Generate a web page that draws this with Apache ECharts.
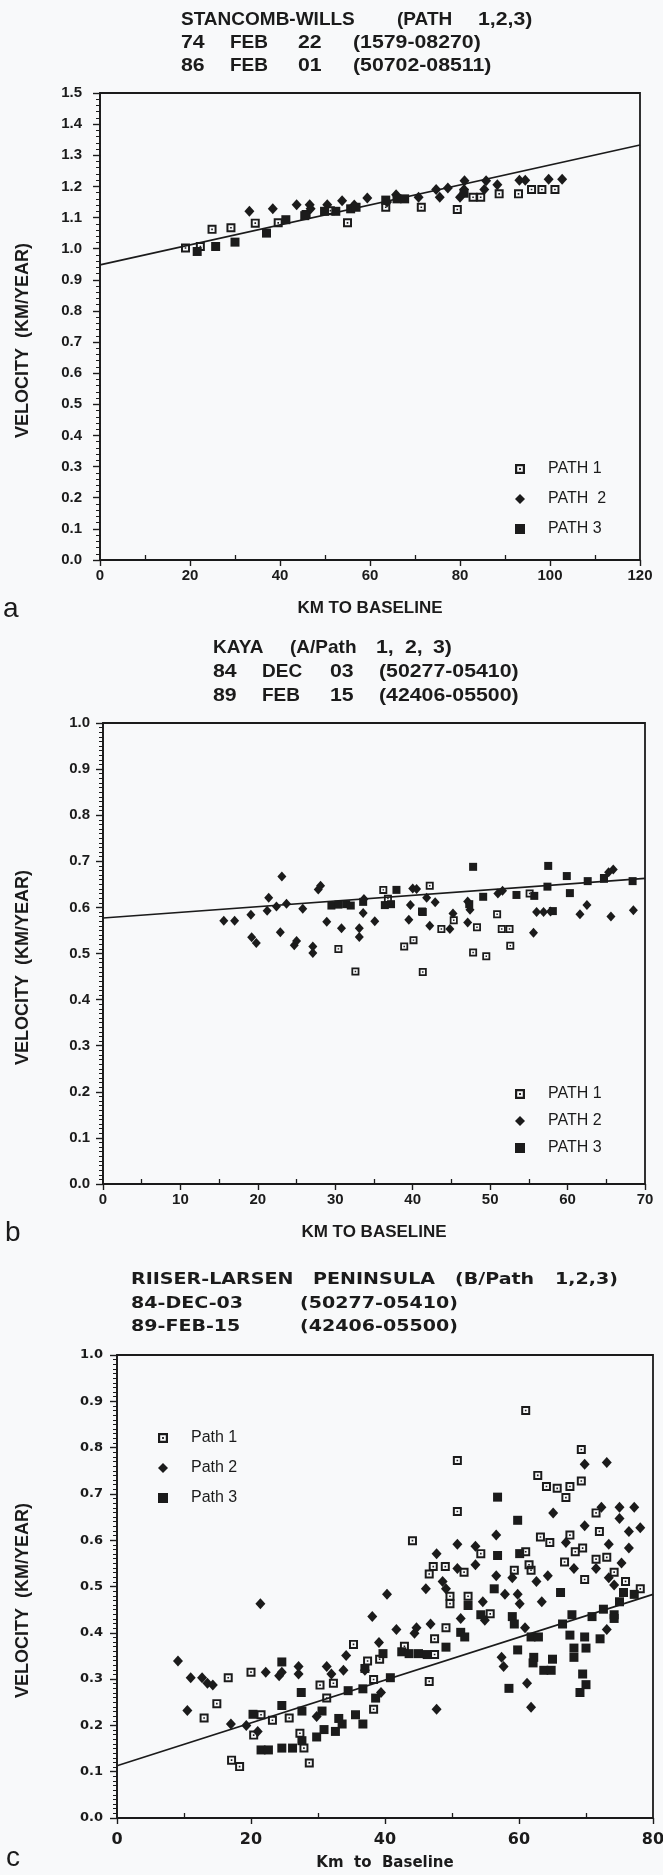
<!DOCTYPE html>
<html><head><meta charset="utf-8">
<script src="https://cdn.jsdelivr.net/npm/echarts@6/dist/echarts.min.js"></script>
<style>html,body{margin:0;padding:0;background:#f8f9fa}#c{width:663px;height:1875px}</style>
</head><body><div id="c"></div>
<script>
// ---------- DATA ----------
// Panel a: STANCOMB-WILLS  [km to baseline, velocity km/yr]
const aPath1 = [[19.0,1.002],[22.3,1.007],[24.9,1.062],[29.1,1.067],[34.5,1.082],[39.6,1.083],[45.8,1.11],[51.2,1.122],[55.0,1.083],[63.5,1.133],[71.4,1.133],[79.4,1.126],[82.9,1.165],[84.6,1.165],[88.7,1.176],[93.0,1.176],[95.9,1.19],[98.2,1.19],[101.1,1.19]];
const aPath2 = [[33.2,1.120],[38.4,1.128],[43.7,1.141],[46.6,1.141],[46.8,1.128],[50.5,1.141],[53.8,1.154],[56.5,1.14],[59.4,1.163],[63.8,1.15],[65.8,1.173],[70.8,1.165],[74.7,1.19],[75.5,1.165],[77.3,1.195],[80.0,1.165],[81.0,1.218],[80.9,1.19],[85.8,1.218],[85.4,1.19],[88.3,1.205],[93.2,1.22],[94.5,1.22],[99.7,1.223],[102.7,1.223]];
const aPath3 = [[21.6,0.991],[25.7,1.007],[30.0,1.021],[37.0,1.05],[41.3,1.093],[45.5,1.106],[49.9,1.12],[52.4,1.12],[55.7,1.128],[56.9,1.133],[63.5,1.156],[66.0,1.16],[67.7,1.16],[80.9,1.178]];
const aFit = [[0,0.948],[120,1.333]];

// Panel b: KAYA
const bPath1 = [[30.4,0.51],[32.6,0.461],[36.2,0.638],[36.8,0.619],[38.9,0.515],[40.1,0.529],[41.2,0.591],[41.3,0.46],[42.2,0.647],[43.7,0.553],[45.3,0.572],[47.8,0.502],[48.3,0.557],[49.5,0.494],[50.9,0.585],[51.5,0.553],[52.5,0.553],[52.6,0.517],[55.1,0.63],[64.7,0.664]];
const bPath2 = [[15.6,0.571],[17.0,0.571],[19.1,0.584],[19.2,0.535],[19.8,0.523],[21.2,0.593],[21.4,0.621],[22.4,0.602],[22.9,0.546],[23.1,0.667],[23.7,0.608],[24.7,0.518],[25.0,0.527],[25.8,0.597],[27.1,0.515],[27.1,0.501],[27.8,0.639],[28.1,0.647],[28.9,0.569],[30.8,0.555],[33.1,0.555],[33.1,0.536],[33.6,0.588],[33.7,0.618],[35.1,0.570],[39.5,0.573],[39.7,0.605],[40.0,0.641],[40.5,0.64],[41.8,0.621],[42.2,0.56],[42.9,0.611],[44.8,0.553],[45.2,0.587],[47.1,0.613],[47.4,0.595],[47.1,0.567],[51.0,0.630],[51.6,0.636],[55.6,0.545],[56.0,0.59],[56.9,0.59],[57.8,0.591],[61.6,0.585],[62.5,0.605],[65.6,0.58],[65.3,0.676],[65.9,0.682],[68.5,0.594]];
const bPath3 = [[29.5,0.604],[30.4,0.606],[31.4,0.607],[32.0,0.604],[33.6,0.612],[36.4,0.605],[37.2,0.607],[37.9,0.638],[41.3,0.59],[47.3,0.607],[47.8,0.688],[49.1,0.623],[53.4,0.627],[55.7,0.625],[57.4,0.645],[57.5,0.69],[58.1,0.592],[59.9,0.668],[60.3,0.631],[62.6,0.657],[64.7,0.662],[68.4,0.657]];
const bFit = [[0,0.577],[70,0.663]];

// Panel c: RIISER-LARSEN PENINSULA
const cPath1 = [[13.0,0.216],[14.9,0.247],[16.6,0.303],[17.1,0.125],[18.3,0.111],[20.0,0.315],[20.4,0.179],[21.5,0.223],[23.2,0.211],[25.7,0.216],[27.3,0.183],[27.9,0.151],[28.7,0.119],[30.3,0.287],[31.3,0.259],[32.3,0.291],[35.3,0.375],[37.4,0.339],[38.3,0.299],[38.3,0.235],[39.2,0.343],[42.9,0.371],[44.1,0.599],[46.6,0.527],[46.6,0.295],[47.2,0.543],[47.4,0.387],[47.4,0.353],[49.0,0.543],[49.1,0.411],[49.7,0.479],[49.7,0.463],[50.8,0.772],[50.8,0.662],[51.8,0.531],[52.4,0.479],[54.3,0.571],[55.7,0.441],[59.3,0.535],[61.0,0.88],[61.0,0.575],[61.5,0.547],[61.8,0.535],[62.8,0.74],[63.2,0.607],[64.6,0.595],[64.1,0.716],[65.7,0.712],[67.0,0.692],[67.6,0.716],[66.8,0.553],[67.6,0.611],[69.3,0.796],[69.3,0.728],[68.4,0.575],[69.5,0.583],[69.8,0.515],[71.5,0.659],[72.0,0.619],[71.5,0.559],[73.1,0.563],[74.2,0.531],[75.9,0.511],[78.1,0.495]];
const cPath2 = [[9.1,0.339],[10.5,0.232],[11.0,0.303],[12.7,0.303],[13.5,0.291],[14.3,0.287],[17.0,0.203],[19.3,0.2],[21.0,0.187],[21.4,0.463],[22.2,0.315],[24.2,0.307],[24.6,0.315],[27.1,0.327],[27.1,0.311],[29.8,0.219],[31.3,0.327],[32.0,0.311],[33.8,0.319],[34.2,0.351],[37.0,0.319],[38.1,0.435],[39.1,0.379],[39.4,0.271],[40.3,0.483],[41.7,0.407],[44.4,0.399],[44.7,0.411],[46.1,0.495],[46.8,0.419],[47.7,0.235],[47.7,0.571],[48.6,0.511],[49.1,0.495],[50.8,0.591],[50.8,0.539],[51.3,0.431],[53.5,0.587],[53.5,0.547],[54.6,0.467],[54.9,0.427],[56.6,0.611],[56.6,0.523],[57.9,0.483],[57.4,0.347],[57.7,0.327],[59.0,0.519],[59.8,0.483],[60.1,0.463],[60.9,0.411],[61.2,0.291],[61.8,0.239],[62.6,0.511],[63.4,0.467],[64.3,0.523],[65.1,0.659],[67.0,0.595],[68.2,0.539],[69.8,0.764],[69.8,0.631],[71.5,0.539],[72.3,0.671],[73.1,0.768],[73.1,0.407],[73.4,0.591],[73.4,0.519],[74.2,0.503],[75.0,0.671],[75.0,0.647],[75.3,0.551],[76.4,0.619],[76.4,0.583],[77.2,0.671],[78.1,0.627]];
const cPath3 = [[20.3,0.224],[21.5,0.147],[22.6,0.147],[24.6,0.151],[24.6,0.337],[24.6,0.243],[26.2,0.151],[27.5,0.271],[27.6,0.231],[27.6,0.167],[29.8,0.175],[30.6,0.231],[30.9,0.191],[32.6,0.187],[33.1,0.215],[33.6,0.203],[34.5,0.275],[35.6,0.223],[36.7,0.203],[36.7,0.279],[37.0,0.323],[38.6,0.259],[39.7,0.355],[40.8,0.303],[42.5,0.359],[43.6,0.355],[45.0,0.355],[46.3,0.353],[49.1,0.369],[51.3,0.401],[51.9,0.391],[52.4,0.459],[54.3,0.439],[56.3,0.495],[56.8,0.693],[56.8,0.567],[58.5,0.28],[59.0,0.435],[59.3,0.419],[59.8,0.643],[59.8,0.363],[60.1,0.571],[61.8,0.391],[62.1,0.335],[62.2,0.347],[62.9,0.391],[63.7,0.319],[64.8,0.319],[65.0,0.343],[66.2,0.487],[66.5,0.419],[67.9,0.439],[67.6,0.395],[68.2,0.367],[68.2,0.347],[69.1,0.271],[69.5,0.311],[70.0,0.288],[69.8,0.391],[70.0,0.367],[70.9,0.435],[72.1,0.387],[72.6,0.451],[74.2,0.439],[74.2,0.431],[75.0,0.467],[75.6,0.487],[77.2,0.483]];
const cFit = [[0,0.113],[80,0.483]];

// axis ranges [min, max, interval]
const aXRange = [0, 120, 20], aYRange = [0, 1.5, 0.1];
const bXRange = [0, 70, 10],  bYRange = [0, 1.0, 0.1];
const cXRange = [0, 80, 20],  cYRange = [0, 1.0, 0.1];

// texts
const aTitle = [['STANCOMB-WILLS','(PATH','1,2,3)'],['74','FEB','22','(1579-08270)'],['86','FEB','01','(50702-08511)']];
const bTitle = [['KAYA','(A/Path','1,','2,','3)'],['84','DEC','03','(50277-05410)'],['89','FEB','15','(42406-05500)']];
const cTitle = [['RIISER-LARSEN','PENINSULA','(B/Path','1,2,3)'],['84-DEC-03','(50277-05410)'],['89-FEB-15','(42406-05500)']];
const legendText = {A1:'PATH 1',A2:'PATH  2',A3:'PATH 3',B1:'PATH 1',B2:'PATH 2',B3:'PATH 3',C1:'Path 1',C2:'Path 2',C3:'Path 3'};

// ---------- STYLE / LAYOUT ----------
const INK = '#1b1b1b';
const FAB = '"Liberation Sans", Arial, sans-serif';
const FC = '"DejaVu Sans", sans-serif';
const OPEN_SQ = 'path://M0,0H10V10H0ZM2.2,2.2V7.8H7.8V2.2ZM4.1,4.1H5.9V5.9H4.1Z';

function words(rows, xs, ys, size, family, sx, digitSx) {
  const out = [];
  rows.forEach((r, i) => r.forEach((w, j) => out.push({
    type: 'text', x: xs[i][j], y: ys[i], silent: true,
    scaleX: (digitSx && /\d/.test(w)) ? digitSx : (sx || 1),
    style: { text: w, fill: INK, font: `bold ${size}px ${family}`, verticalAlign: 'middle', align: 'left' }
  })));
  return out;
}
function letter(x, y, s) {
  return { type: 'text', x, y, silent: true,
    style: { text: s, fill: INK, font: `28px ${FAB}`, verticalAlign: 'middle', align: 'left' } };
}
function xAx(g, r, name, o) {
  return {
    type: 'value', gridIndex: g, min: r[0], max: r[1], interval: r[2],
    axisLine: { show: true, onZero: false, lineStyle: { color: INK, width: 1.6 } },
    axisTick: { show: true, length: 6, lineStyle: { color: INK, width: 1.4 } },
    minorTick: { show: true, splitNumber: 2, length: -5, lineStyle: { color: INK, width: 1.3 } },
    splitLine: { show: false }, minorSplitLine: { show: false },
    axisLabel: { color: INK, fontSize: o.ls, fontWeight: 'bold', fontFamily: o.f, margin: o.lm },
    name, nameLocation: 'middle', nameGap: o.ng, nameMoveOverlap: false,
    nameTextStyle: { color: INK, fontSize: o.ns, fontWeight: 'bold', fontFamily: o.f }
  };
}
function yAx(g, r, o) {
  return {
    type: 'value', gridIndex: g, min: r[0], max: r[1], interval: r[2],
    axisLine: { show: true, onZero: false, lineStyle: { color: INK, width: 1.6 } },
    axisTick: { show: true, length: 7, lineStyle: { color: INK, width: 1.4 } },
    minorTick: { show: true, splitNumber: o.ms, length: 4, lineStyle: { color: INK, width: 1 } },
    splitLine: { show: false }, minorSplitLine: { show: false },
    axisLabel: { color: INK, fontSize: o.ls, fontWeight: 'bold', fontFamily: o.f, margin: o.lm,
      formatter: v => v.toFixed(1) },
    name: 'VELOCITY  (KM/YEAR)', nameLocation: 'middle', nameGap: o.ng, nameRotate: 90, nameMoveOverlap: false,
    nameTextStyle: { color: INK, fontSize: 18, fontWeight: 'bold', fontFamily: FAB, padding: [0, 28, 0, 0] }
  };
}
function scat(name, g, data, sym, size) {
  return { type: 'scatter', name, xAxisIndex: g, yAxisIndex: g, data, symbol: sym, symbolSize: size,
    itemStyle: { color: INK, opacity: 1 }, z: 3, silent: true };
}
function fit(g, data) {
  return { type: 'line', xAxisIndex: g, yAxisIndex: g, data, showSymbol: false, symbol: 'none',
    lineStyle: { color: INK, width: 1.6 }, z: 2, silent: true };
}
function leg(left, top, names, gap, size) {
  return { orient: 'vertical', left, top, itemWidth: 10, itemHeight: 10, itemGap: gap, data: names,
    selectedMode: false, formatter: n => legendText[n],
    textStyle: { color: INK, fontSize: size, fontFamily: FAB, lineHeight: 15, padding: [0, 0, 0, 18] } };
}
const gridBase = { show: true, borderColor: INK, borderWidth: 1.8, backgroundColor: 'transparent', containLabel: false, outerBoundsMode: 'none' };

const option = {
  backgroundColor: '#f8f9fa',
  animation: false,
  grid: [
    Object.assign({ left: 100, top: 93, width: 540, height: 467 }, gridBase),
    Object.assign({ left: 103, top: 723, width: 542, height: 461 }, gridBase),
    Object.assign({ left: 117, top: 1355, width: 536, height: 463 }, gridBase)
  ],
  xAxis: [
    xAx(0, aXRange, 'KM TO BASELINE', { ls: 15, f: FAB, lm: 8, ng: 40, ns: 17 }),
    xAx(1, bXRange, 'KM TO BASELINE', { ls: 15, f: FAB, lm: 8, ng: 40, ns: 17 }),
    xAx(2, cXRange, 'Km  to  Baseline', { ls: 16, f: FC, lm: 14, ng: 38, ns: 15 })
  ],
  yAxis: [
    yAx(0, aYRange, { ms: 5, ls: 15, f: FAB, lm: 18, ng: 68 }),
    yAx(1, bYRange, { ms: 10, ls: 15, f: FAB, lm: 13, ng: 71 }),
    yAx(2, cYRange, { ms: 10, ls: 13, f: FC, lm: 14, ng: 85 })
  ],
  legend: [
    leg(510, 456, ['A1','A2','A3'], 14, 16),
    leg(510, 1081, ['B1','B2','B3'], 11, 16),
    leg(153, 1425, ['C1','C2','C3'], 14, 16)
  ],
  series: [
    fit(0, aFit),
    scat('A1', 0, aPath1, OPEN_SQ, 9), scat('A2', 0, aPath2, 'diamond', [10, 11]), scat('A3', 0, aPath3, 'rect', 9),
    fit(1, bFit),
    scat('B1', 1, bPath1, OPEN_SQ, 8), scat('B2', 1, bPath2, 'diamond', [9, 10]), scat('B3', 1, bPath3, 'rect', 8),
    fit(2, cFit),
    scat('C1', 2, cPath1, OPEN_SQ, 9), scat('C2', 2, cPath2, 'diamond', [10, 11]), scat('C3', 2, cPath3, 'rect', 9)
  ],
  graphic: [].concat(
    words(aTitle, [[181,397,478],[181,230,298,353],[181,230,298,353]], [20,43,66], 19, FAB, 1, 1.12),
    words(bTitle, [[213,290,376,405,433],[213,262,330,379],[213,262,330,379]], [648,672,696], 19, FAB, 1, 1.12),
    words(cTitle, [[131,313,455,555],[131,300],[131,300]], [1280,1304,1327], 15, FC, 1.27),
    [letter(3, 609, 'a'), letter(5, 1233, 'b'), letter(6, 1858, 'c')]
  )
};
const chart = echarts.init(document.getElementById('c'), null, { renderer: 'canvas' });
chart.setOption(option);
</script>
</body></html>
